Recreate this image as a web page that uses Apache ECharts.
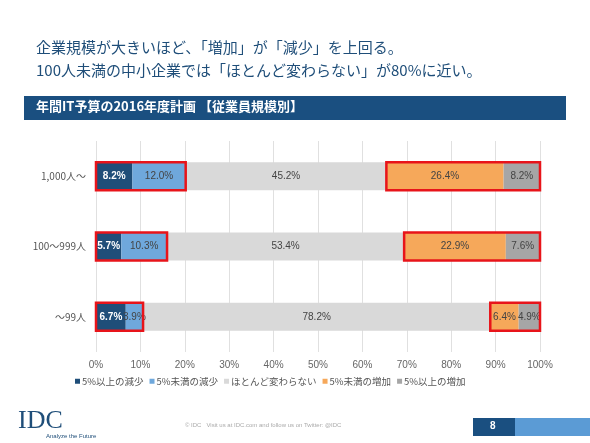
<!DOCTYPE html>
<html><head><meta charset="utf-8">
<script src="https://cdn.jsdelivr.net/npm/echarts@6/dist/echarts.min.js"></script>
<style>html,body{margin:0;padding:0;background:#fff}#c{width:590px;height:443px}</style>
</head><body><div id="c"></div>
<script>
var categories = ['1,000人～', '100～999人', '～99人'];
var seriesNames = ['5%以上の減少', '5%未満の減少', 'ほとんど変わらない', '5%未満の増加', '5%以上の増加'];
var bigDecrease = [8.2, 5.7, 6.7];
var smallDecrease = [12.0, 10.3, 3.9];
var noChange = [45.2, 53.4, 78.2];
var smallIncrease = [26.4, 22.9, 6.4];
var bigIncrease = [8.2, 7.6, 4.9];
var colors = ['#1f4e79', '#6fa8dc', '#d9d9d9', '#f6a85a', '#a6a6a6'];
var labelColors = ['#fff', '#444', '#444', '#444', '#444'];
var allData = [bigDecrease, smallDecrease, noChange, smallIncrease, bigIncrease];

var chart = echarts.init(document.getElementById('c'));
var font = '"Noto Sans CJK JP", sans-serif';
var series = allData.map(function (d, i) {
  return {
    name: seriesNames[i], type: 'bar', stack: 'all', data: d, barWidth: 28,
    itemStyle: { color: colors[i] },
    label: { show: true, fontSize: 10, color: labelColors[i], fontWeight: i === 0 ? 'bold' : 'normal',
      fontFamily: 'Arial', formatter: function (p) { return p.value.toFixed(1) + '%'; } }
  };
});
chart.setOption({
  animation: false,
  textStyle: { fontFamily: font },
  graphic: [
    { type: 'text', left: 36, top: 36, style: { text: '企業規模が大きいほど、「増加」が「減少」を上回る。\n100人未満の中小企業では「ほとんど変わらない」が80%に近い。', fill: '#1f4e79', font: '15px ' + font, lineHeight: 23 } },
    { type: 'rect', shape: { x: 24, y: 96, width: 542, height: 24 }, style: { fill: '#1a4f80' } },
    { type: 'text', left: 36, top: 100, style: { text: '年間IT予算の2016年度計画 【従業員規模別】', fill: '#fff', font: 'bold 13px ' + font } },
    { type: 'text', left: 18, top: 408, style: { text: 'IDC', fill: '#1f4e79', font: '26px "Liberation Serif"' } },
    { type: 'text', left: 46, top: 433, style: { text: 'Analyze the Future', fill: '#1f4e79', font: '6px Arial' } },
    { type: 'text', left: 185, top: 422, style: { text: '© IDC   Visit us at IDC.com and follow us on Twitter: @IDC', fill: '#aaa', font: '6px Arial' } },
    { type: 'rect', shape: { x: 473, y: 418, width: 42, height: 18 }, style: { fill: '#1a4f80' } },
    { type: 'rect', shape: { x: 515, y: 418, width: 75, height: 18 }, style: { fill: '#5b9bd5' } },
    { type: 'text', left: 490, top: 421, style: { text: '8', fill: '#fff', font: 'bold 10px Arial' } }
  ],
  legend: { bottom: 52, left: 70, itemWidth: 5, itemHeight: 5, itemGap: 6, icon: 'rect',
    textStyle: { fontSize: 9.5, color: '#555', fontFamily: font, padding: [0, 0, 0, -3] } },
  grid: { left: 96, right: 50, top: 141, bottom: 91 },
  xAxis: { type: 'value', min: 0, max: 100, interval: 10,
    axisLabel: { formatter: '{value}%', color: '#666', fontSize: 10, fontFamily: 'Arial' },
    splitLine: { lineStyle: { color: '#e0e0e0' } } },
  yAxis: { type: 'category', data: categories, inverse: true,
    axisLine: { show: false }, axisTick: { show: false },
    axisLabel: { color: '#555', fontSize: 10, margin: 10 } },
  series: series
});

// red outlines around the decrease and increase groups
var boxes = [];
categories.forEach(function (c, i) {
  var dec = bigDecrease[i] + smallDecrease[i];
  var incStart = dec + noChange[i];
  [[0, dec], [incStart, 100]].forEach(function (r) {
    var a = chart.convertToPixel({ gridIndex: 0 }, [r[0], c]);
    var b = chart.convertToPixel({ gridIndex: 0 }, [r[1], c]);
    boxes.push({ type: 'rect', z: 100, shape: { x: a[0], y: a[1] - 14, width: b[0] - a[0], height: 28 },
      style: { fill: 'none', stroke: '#e8141a', lineWidth: 2.5 } });
  });
});
var g = chart.getOption().graphic[0].elements;
chart.setOption({ graphic: g.concat(boxes) });
</script></body></html>
